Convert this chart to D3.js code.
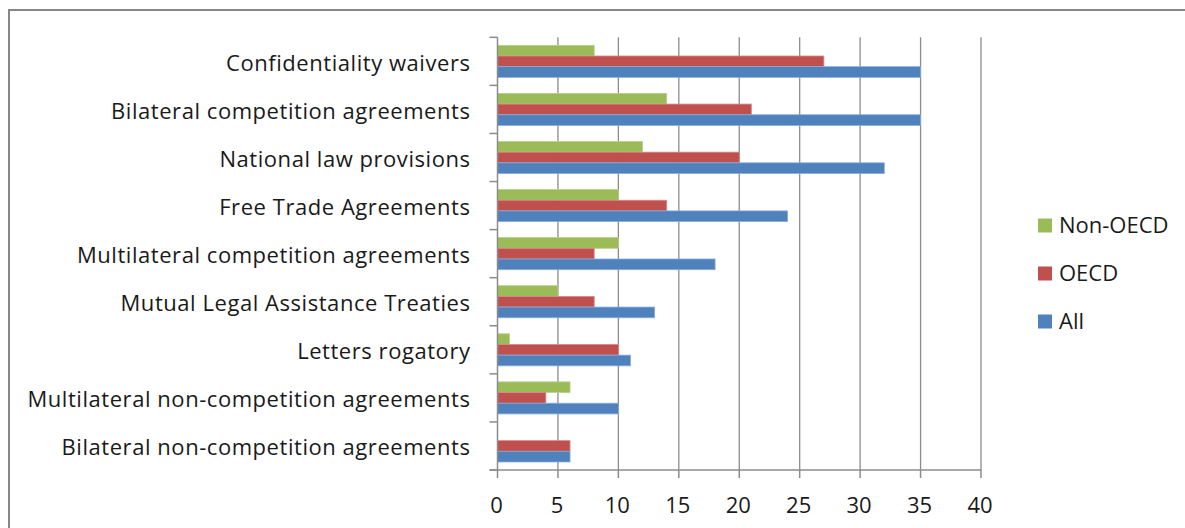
<!DOCTYPE html>
<html><head><meta charset="utf-8">
<script src="https://cdn.jsdelivr.net/npm/d3@7"></script>
<style>body{margin:0;background:#fff;} svg{display:block;} text{font-variant-ligatures:none;}</style>
</head><body>
<script>
const categories = ["Confidentiality waivers","Bilateral competition agreements","National law provisions","Free Trade Agreements","Multilateral competition agreements","Mutual Legal Assistance Treaties","Letters rogatory","Multilateral non-competition agreements","Bilateral non-competition agreements"];
const seriesNames = ["Non-OECD","OECD","All"];
const nonOECD = [8,14,12,10,10,5,1,6,0];
const oecd    = [27,21,20,14,8,8,10,4,6];
const all     = [35,35,32,24,18,13,11,10,6];
const xTicks  = [0,5,10,15,20,25,30,35,40];
const colors  = ["#9BBB59","#C0504D","#4F81BD"];
const strokes = ["#b8d08a","#d88a88","#8aaad6"];

const W=1185,H=528;
const svg=d3.select("body").append("svg").attr("width",W).attr("height",H);
const font="'Open Sans', sans-serif";
const fs=22;

svg.append("rect").attr("x",9).attr("y",10).attr("width",1300).attr("height",700)
  .attr("fill","#fff").attr("stroke","#878787").attr("stroke-width",2);

const x=d3.scaleLinear().domain([0,40]).range([497.5,981]);
const y=d3.scaleBand().domain(categories).range([37.3,470]).paddingInner(0).paddingOuter(0);
const ys=d3.scaleBand().domain(seriesNames).range([0,y.bandwidth()]).paddingInner(0).paddingOuter(0.75);

svg.append("g").selectAll("line").data(xTicks.slice(1)).join("line")
  .attr("x1",d=>x(d)).attr("x2",d=>x(d)).attr("y1",37.3).attr("y2",470)
  .attr("stroke","#8c8c8c").attr("stroke-width",1.3);

const data=[nonOECD,oecd,all];
const g=svg.append("g");
seriesNames.forEach((s,i)=>{
  g.append("g").selectAll("rect").data(categories).join("rect")
    .attr("x",x(0)).attr("y",c=>y(c)+ys(s))
    .attr("width",(c,j)=>Math.max(0,x(data[i][j])-x(0)))
    .attr("height",ys.bandwidth())
    .attr("fill",colors[i])
    .attr("stroke",(c,j)=>data[i][j]>0?strokes[i]:"none").attr("stroke-width",0.8);
});

const bounds=categories.map(c=>y(c)).concat([470]);
svg.append("line").attr("x1",x(0)).attr("x2",x(0)).attr("y1",37.3).attr("y2",470).attr("stroke","#8c8c8c").attr("stroke-width",1.5);
svg.append("g").selectAll("line").data(bounds).join("line")
  .attr("x1",x(0)-8).attr("x2",x(0)).attr("y1",d=>d).attr("y2",d=>d)
  .attr("stroke","#8c8c8c").attr("stroke-width",1.5);
svg.append("line").attr("x1",x(0)-8).attr("x2",x(40)).attr("y1",470).attr("y2",470).attr("stroke","#8c8c8c").attr("stroke-width",1.5);
svg.append("g").selectAll("line").data(xTicks).join("line")
  .attr("x1",d=>x(d)).attr("x2",d=>x(d)).attr("y1",470).attr("y2",478)
  .attr("stroke","#8c8c8c").attr("stroke-width",1.5);
svg.append("g").selectAll("text").data(xTicks).join("text")
  .attr("x",d=>x(d)-1).attr("y",512.5).attr("text-anchor","middle")
  .attr("font-family",font).attr("font-size",fs).attr("fill","#1a1a1a").text(d=>d);

svg.append("g").selectAll("text").data(categories).join("text")
  .attr("x",470.5).attr("y",c=>y(c)+y.bandwidth()/2+9.5).attr("text-anchor","end")
  .attr("font-family",font).attr("font-size",fs).attr("letter-spacing",0.55).attr("fill","#1a1a1a").text(c=>c);

const legY=[233,281,329];
const lg=svg.append("g");
seriesNames.forEach((s,i)=>{
  lg.append("rect").attr("x",1038).attr("y",legY[i]-14.5).attr("width",14).attr("height",14).attr("fill",colors[i]);
  lg.append("text").attr("x",1059).attr("y",legY[i]).attr("font-family",font).attr("font-size",fs).attr("fill","#1a1a1a").text(s);
});
</script>
</body></html>
